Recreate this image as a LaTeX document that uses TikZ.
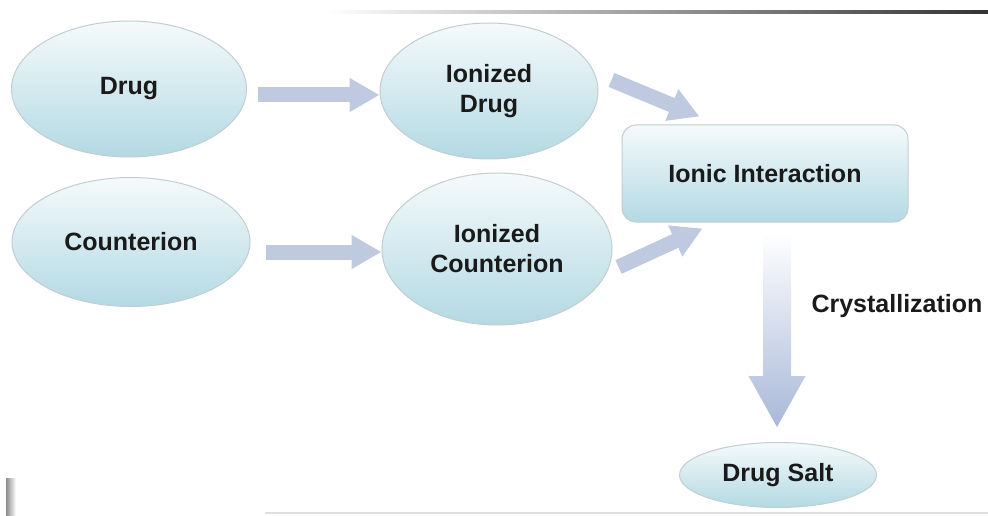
\documentclass[tikz,border=0pt]{standalone}
\usepackage{fontspec}
\setmainfont{Liberation Sans}
\usetikzlibrary{shapes.geometric,arrows.meta,calc}

\definecolor{bubtop}{HTML}{F5FAFB}
\definecolor{bubbot}{HTML}{B3D9E3}
\definecolor{bubline}{HTML}{C3CDD1}
\definecolor{flowblue}{HTML}{BFCAE0}
\definecolor{flowdeep}{HTML}{A9B8D8}
\definecolor{inkdark}{HTML}{1A1A1A}

\tikzset{
	bubble/.style={ellipse,draw=bubline,line width=1pt,top color=bubtop,bottom color=bubbot,
		inner sep=0pt,align=center,text=inkdark,font=\bfseries\fontsize{25}{30}\selectfont},
	ionbox/.style={rectangle,rounded corners=14pt,draw=bubline,line width=1pt,top color=bubtop,
		bottom color=bubbot,inner sep=0pt,text=inkdark,font=\bfseries\fontsize{25}{30}\selectfont},
	flow/.style={line width=15pt,draw=flowblue,-{Triangle[width=32pt,length=30pt]}},
}

\begin{document}
\begin{tikzpicture}[x=1pt,y=-1pt]
	\useasboundingbox (0,0) rectangle (988,516);
	% frame marks
	\shade[left color=white,right color=black!80] (327,11) rectangle (988,13.5);
	\draw[black!12,line width=1.5pt] (265,513) -- (988,513);
	\shade[left color=black!45,right color=white] (6,478) rectangle (16,516);
	% nodes
	\node[bubble,minimum width=235pt,minimum height=136pt] (drug) at (129,89) {Drug};
	\node[bubble,minimum width=238pt,minimum height=129pt] (counter) at (131,242) {Counterion};
	\node[bubble,minimum width=218pt,minimum height=136pt] (idrug) at (489,91) {Ionized\\Drug};
	\node[bubble,minimum width=230pt,minimum height=152pt] (icount) at (497,249) {Ionized\\Counterion};
	\node[ionbox,minimum width=286pt,minimum height=97pt] (ionic) at (765,173.5) {Ionic Interaction};
	\node[bubble,minimum width=197pt,minimum height=65pt] (salt) at (778,475) {Drug Salt};
	\node[text=inkdark,font=\bfseries\fontsize{25}{30}\selectfont] (cryst) at (897,306) {Crystallization};
	% arrows
	\draw[flow] ($(drug.east)+(11,6)$) -- ($(idrug.west)+(0,4)$);
	\draw[flow] ($(counter.east)+(15,10)$) -- ($(icount.west)+(0,3)$);
	\draw[flow] ($(idrug.east)+(13,-11)$) -- ($(ionic.north west)+(78,-8)$);
	\draw[flow] ($(icount.east)+(6,18)$) -- ($(ionic.south west)+(81,6)$);
	% crystallization arrow
	\coordinate (dtop) at ($(ionic.south)+(12,10)$);
	\coordinate (dtip) at ($(salt.north)+(-1,-15)$);
	\shade[top color=white,bottom color=flowdeep] ($(dtop)+(-14,0)$) -- ($(dtop)+(14,0)$)
		-- ($(dtip)+(14,-51)$) -- ($(dtip)+(28.5,-51)$) -- (dtip)
		-- ($(dtip)+(-28.5,-51)$) -- ($(dtip)+(-14,-51)$) -- cycle;
\end{tikzpicture}
\end{document}
